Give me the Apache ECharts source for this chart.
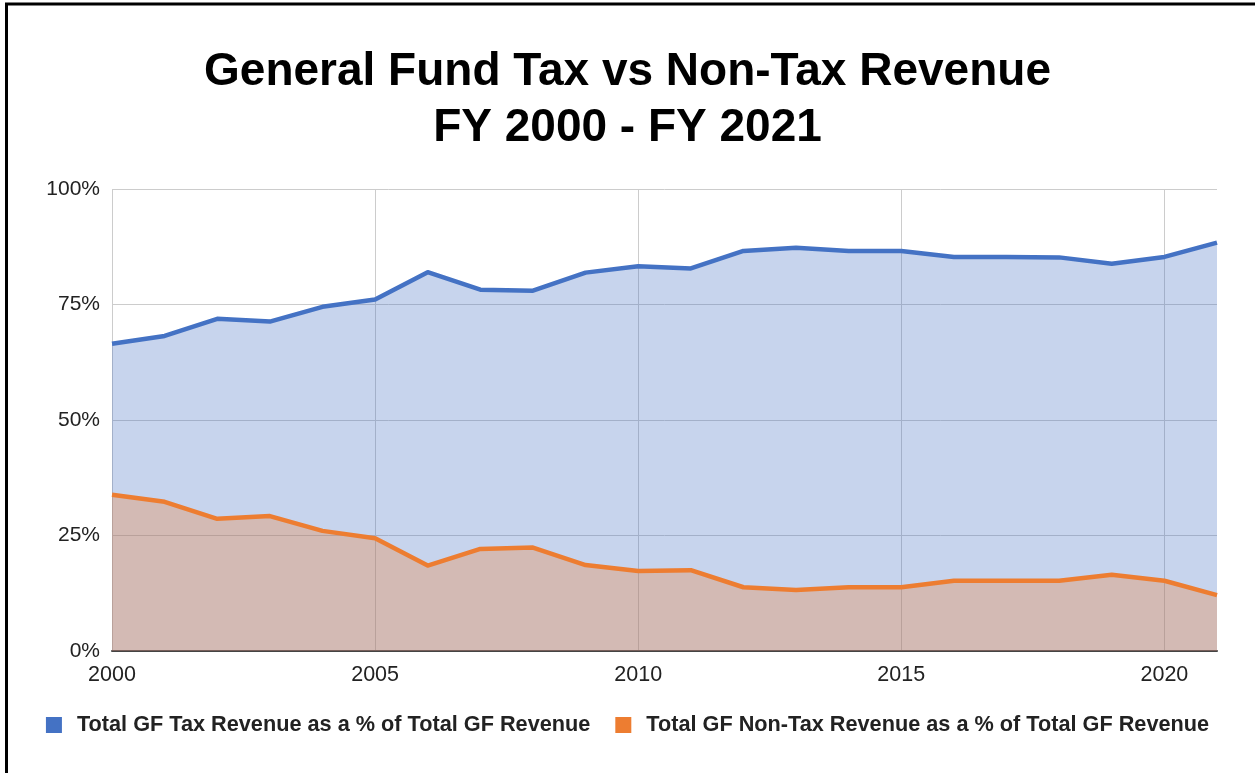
<!DOCTYPE html>
<html>
<head>
<meta charset="utf-8">
<title>General Fund Tax vs Non-Tax Revenue</title>
<script src="https://cdn.jsdelivr.net/npm/echarts@6/dist/echarts.min.js"></script>
<style>
  html, body { margin: 0; padding: 0; background: #fff; }
  #chart { width: 1255px; height: 773px; }
</style>
</head>
<body>
<div id="chart"></div>
<script>
// fiscal years on the x axis
var years = [2000, 2001, 2002, 2003, 2004, 2005, 2006, 2007, 2008, 2009, 2010,
             2011, 2012, 2013, 2014, 2015, 2016, 2017, 2018, 2019, 2020, 2021];

// tax revenue share of total GF revenue (%)
var taxShare = [66.5, 68.2, 71.9, 71.3, 74.5, 76.1, 82.0, 78.2, 78.0, 81.9, 83.3,
                82.8, 86.6, 87.3, 86.6, 86.6, 85.3, 85.3, 85.2, 83.8, 85.3, 88.4];

// non-tax revenue share of total GF revenue (%)
var nonTaxShare = [33.8, 32.3, 28.6, 29.2, 26.0, 24.4, 18.5, 22.1, 22.4, 18.6, 17.3,
                   17.5, 13.8, 13.2, 13.8, 13.8, 15.2, 15.2, 15.2, 16.5, 15.2, 12.1];

// tick labels
var xTicks = [2000, 2005, 2010, 2015, 2020];
var yTicks = [0, 25, 50, 75, 100];

var seriesNames = [
    "Total GF Tax Revenue as a % of Total GF Revenue",
    "Total GF Non-Tax Revenue as a % of Total GF Revenue"
];

function pairUp(xs, ys){
    var out = [];
    for (var i = 0; i < xs.length; i++){
        out.push([xs[i], ys[i]]);
    }
    return out;
}

var FONT = "'Liberation Sans', Arial, sans-serif";

var myChart = echarts.init(document.getElementById("chart"), null, {renderer: "canvas"});

var option = {
    backgroundColor: "#fff",
    animation: false,
    // outer frame of the picture
    graphic: [{
        type: "rect",
        shape: {x: 6.5, y: 4, width: 1400, height: 1000},
        style: {fill: "none", stroke: "#000", lineWidth: 3},
        silent: true
    }],
    title: {
        text: "General Fund Tax vs Non-Tax Revenue\nFY 2000 - FY 2021",
        left: "center",
        top: 39,
        padding: [5, 0, 5, 8],
        textStyle: {
            fontFamily: FONT,
            fontSize: 46,
            fontWeight: "bold",
            color: "#000",
            lineHeight: 56
        }
    },
    legend: {
        bottom: 32,
        left: "center",
        padding: [5, 0, 5, 6],
        icon: "rect",
        itemWidth: 16,
        itemHeight: 16,
        itemGap: 25,
        textStyle: {
            fontFamily: FONT,
            fontSize: 21.7,
            fontWeight: "bold",
            color: "#222",
            padding: [0, 0, 0, 10]
        },
        data: seriesNames
    },
    grid: {
        left: 112,
        right: 38,
        top: 189,
        bottom: 122,
        containLabel: false
    },
    xAxis: {
        type: "value",
        min: years[0],
        max: years[years.length - 1],
        interval: 5,
        axisLine: {show: true, lineStyle: {color: "#444", width: 2}},
        axisTick: {show: false, customValues: xTicks},
        axisLabel: {
            fontFamily: FONT,
            fontSize: 21.5,
            color: "#222",
            margin: 13,
            customValues: xTicks,
            formatter: function(v){ return String(v); }
        },
        splitLine: {show: true, lineStyle: {color: "#ccc", width: 1}}
    },
    yAxis: {
        type: "value",
        min: yTicks[0],
        max: yTicks[yTicks.length - 1],
        interval: 25,
        axisLine: {show: false},
        axisTick: {show: false},
        axisLabel: {
            fontFamily: FONT,
            fontSize: 21,
            color: "#222",
            margin: 12,
            formatter: "{value}%"
        },
        splitLine: {show: true, lineStyle: {color: "#ccc", width: 1}}
    },
    series: [
        {
            name: seriesNames[0],
            type: "line",
            data: pairUp(years, taxShare),
            showSymbol: false,
            symbol: "none",
            color: "#4472c4",
            lineStyle: {width: 4.5, color: "#4472c4", join: "round"},
            areaStyle: {color: "#4472c4", opacity: 0.3},
            z: 2
        },
        {
            name: seriesNames[1],
            type: "line",
            data: pairUp(years, nonTaxShare),
            showSymbol: false,
            symbol: "none",
            color: "#ed7d31",
            lineStyle: {width: 4.5, color: "#ed7d31", join: "round"},
            areaStyle: {color: "#ed7d31", opacity: 0.3},
            z: 3
        }
    ]
};

myChart.setOption(option);
</script>
</body>
</html>
